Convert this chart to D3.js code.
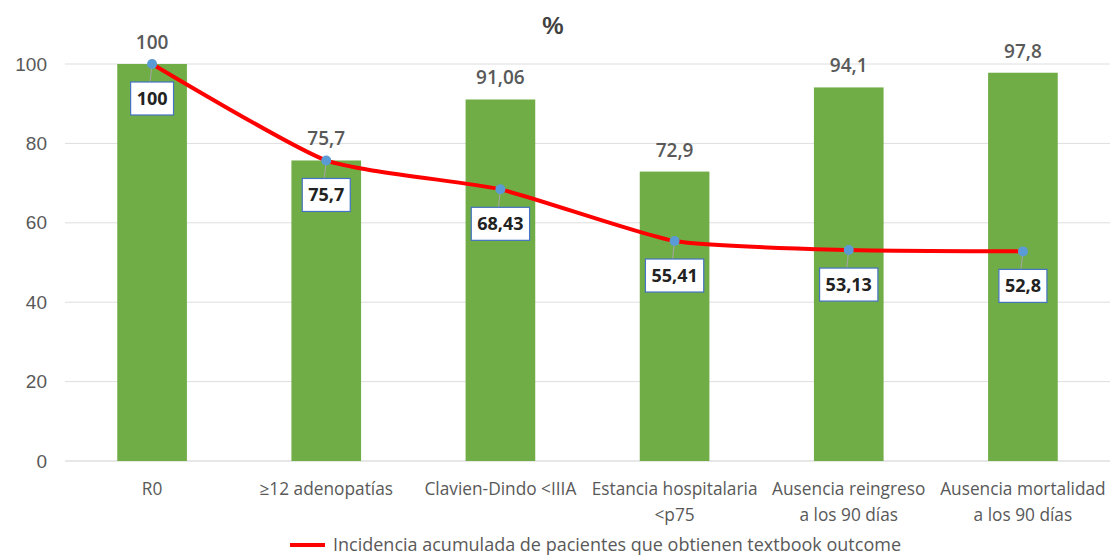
<!DOCTYPE html>
<html>
<head>
<meta charset="utf-8">
<script src="https://cdn.jsdelivr.net/npm/d3@7"></script>
<style>
  body { margin: 0; background: #fff; }
  svg { display: block; }
</style>
</head>
<body>
<svg id="chart" width="1112" height="557"></svg>
<script>
const categories = [
  ["R0"],
  ["≥12 adenopatías"],
  ["Clavien-Dindo <IIIA"],
  ["Estancia hospitalaria", "<p75"],
  ["Ausencia reingreso", "a los 90 días"],
  ["Ausencia mortalidad", "a los 90 días"]
];
const barValues = [100, 75.7, 91.06, 72.9, 94.1, 97.8];
const lineValues = [100, 75.7, 68.43, 55.41, 53.13, 52.8];
const yTicks = [0, 20, 40, 60, 80, 100];
const seriesName = "Incidencia acumulada de pacientes que obtienen textbook outcome";
const chartTitle = "%";

(function () {
  const margin = { top: 64, right: 2, bottom: 96, left: 65 },
        width = 1112 - margin.left - margin.right,
        height = 557 - margin.top - margin.bottom;

  const fmt = v => String(v).replace(".", ",");
  const keys = categories.map((c, i) => i);

  const svg = d3.select("#chart");
  const g = svg.append("g")
    .attr("transform", `translate(${margin.left}, ${margin.top})`);

  const x = d3.scaleBand()
    .domain(keys)
    .range([0, width])
    .paddingInner(0.6)
    .paddingOuter(0.3);

  const y = d3.scaleLinear()
    .domain([0, 100])
    .range([height, 0]);

  // Title
  svg.append("text")
    .attr("x", 553)
    .attr("y", 34)
    .attr("text-anchor", "middle")
    .style("font-family", "Liberation Sans, Arial, sans-serif")
    .style("font-size", "24px")
    .style("font-weight", "bold")
    .style("fill", "#404040")
    .text(chartTitle);

  // Gridlines
  g.append("g")
    .selectAll("line")
    .data(yTicks)
    .enter()
    .append("line")
    .attr("x1", 0)
    .attr("x2", width)
    .attr("y1", d => y(d))
    .attr("y2", d => y(d))
    .attr("stroke", d => d === 0 ? "#cfcfcf" : "#dedede")
    .attr("stroke-width", 1);

  // Y Axis
  const yAxis = g.append("g")
    .call(d3.axisLeft(y).tickValues(yTicks).tickSize(0).tickPadding(18));
  yAxis.select(".domain").remove();
  yAxis.selectAll("text")
    .style("font-family", "Liberation Sans, Arial, sans-serif")
    .style("font-size", "19px")
    .style("fill", "#595959");

  // Bars
  g.selectAll(".bar")
    .data(barValues)
    .enter()
    .append("rect")
    .attr("class", "bar")
    .attr("x", (d, i) => x(i))
    .attr("y", d => y(d))
    .attr("width", x.bandwidth())
    .attr("height", d => height - y(d))
    .attr("fill", "#70ad47");

  // Bar labels
  g.selectAll(".bar-label")
    .data(barValues)
    .enter()
    .append("text")
    .attr("x", (d, i) => x(i) + x.bandwidth() / 2)
    .attr("y", d => y(d) - 15)
    .attr("text-anchor", "middle")
    .style("font-family", "Open Sans, sans-serif")
    .style("font-size", "19px")
    .style("font-weight", "600")
    .style("fill", "#595959")
    .text(d => fmt(d));

  // X Axis labels
  const xAxis = g.append("g")
    .attr("transform", `translate(0, ${height})`);
  categories.forEach((lines, i) => {
    const t = xAxis.append("text")
      .attr("x", x(i) + x.bandwidth() / 2)
      .attr("y", 34)
      .attr("text-anchor", "middle")
      .style("font-family", "Open Sans, sans-serif")
      .style("font-size", "17.3px")
      .style("fill", "#595959");
    lines.forEach((s, j) => {
      t.append("tspan")
        .attr("x", x(i) + x.bandwidth() / 2)
        .attr("dy", j === 0 ? 0 : 26)
        .text(s);
    });
  });

  // Line
  const line = d3.line()
    .x((d, i) => x(i) + x.bandwidth() / 2)
    .y(d => y(d))
    .curve(d3.curveCardinal.tension(0.45));

  g.append("path")
    .datum(lineValues)
    .attr("fill", "none")
    .attr("stroke", "#ff0000")
    .attr("stroke-width", 4)
    .attr("d", line);

  // Leader lines + boxed labels
  const labels = g.selectAll(".line-label")
    .data(lineValues)
    .enter()
    .append("g")
    .attr("transform", (d, i) => `translate(${x(i) + x.bandwidth() / 2}, ${y(d)})`);

  labels.append("line")
    .attr("x1", 0).attr("y1", 0)
    .attr("x2", -2).attr("y2", 18)
    .attr("stroke", "#a6a6a6")
    .attr("stroke-width", 1);

  labels.append("text")
    .attr("class", "lbl")
    .attr("x", 0)
    .attr("y", 41)
    .attr("text-anchor", "middle")
    .style("font-family", "Open Sans, sans-serif")
    .style("font-size", "18px")
    .style("font-weight", "bold")
    .style("fill", "#222")
    .text(d => fmt(d));

  labels.each(function () {
    const grp = d3.select(this);
    const bb = grp.select("text").node().getBBox();
    grp.insert("rect", "text")
      .attr("x", bb.x - 6)
      .attr("y", 18)
      .attr("width", bb.width + 12)
      .attr("height", 33)
      .attr("fill", "#fff")
      .attr("stroke", "#4472c4")
      .attr("stroke-width", 1.2);
  });

  // Markers
  g.selectAll(".dot")
    .data(lineValues)
    .enter()
    .append("circle")
    .attr("cx", (d, i) => x(i) + x.bandwidth() / 2)
    .attr("cy", d => y(d))
    .attr("r", 5)
    .attr("fill", "#5b9bd5");

  // Legend
  const legend = svg.append("g")
    .attr("transform", "translate(290, 545)");
  legend.append("line")
    .attr("x1", 0).attr("x2", 35)
    .attr("y1", 0).attr("y2", 0)
    .attr("stroke", "#ff0000")
    .attr("stroke-width", 4);
  legend.append("text")
    .attr("x", 43)
    .attr("y", 6)
    .style("font-family", "Open Sans, sans-serif")
    .style("font-size", "18px")
    .style("fill", "#595959")
    .text(seriesName);
})();
</script>
</body>
</html>
